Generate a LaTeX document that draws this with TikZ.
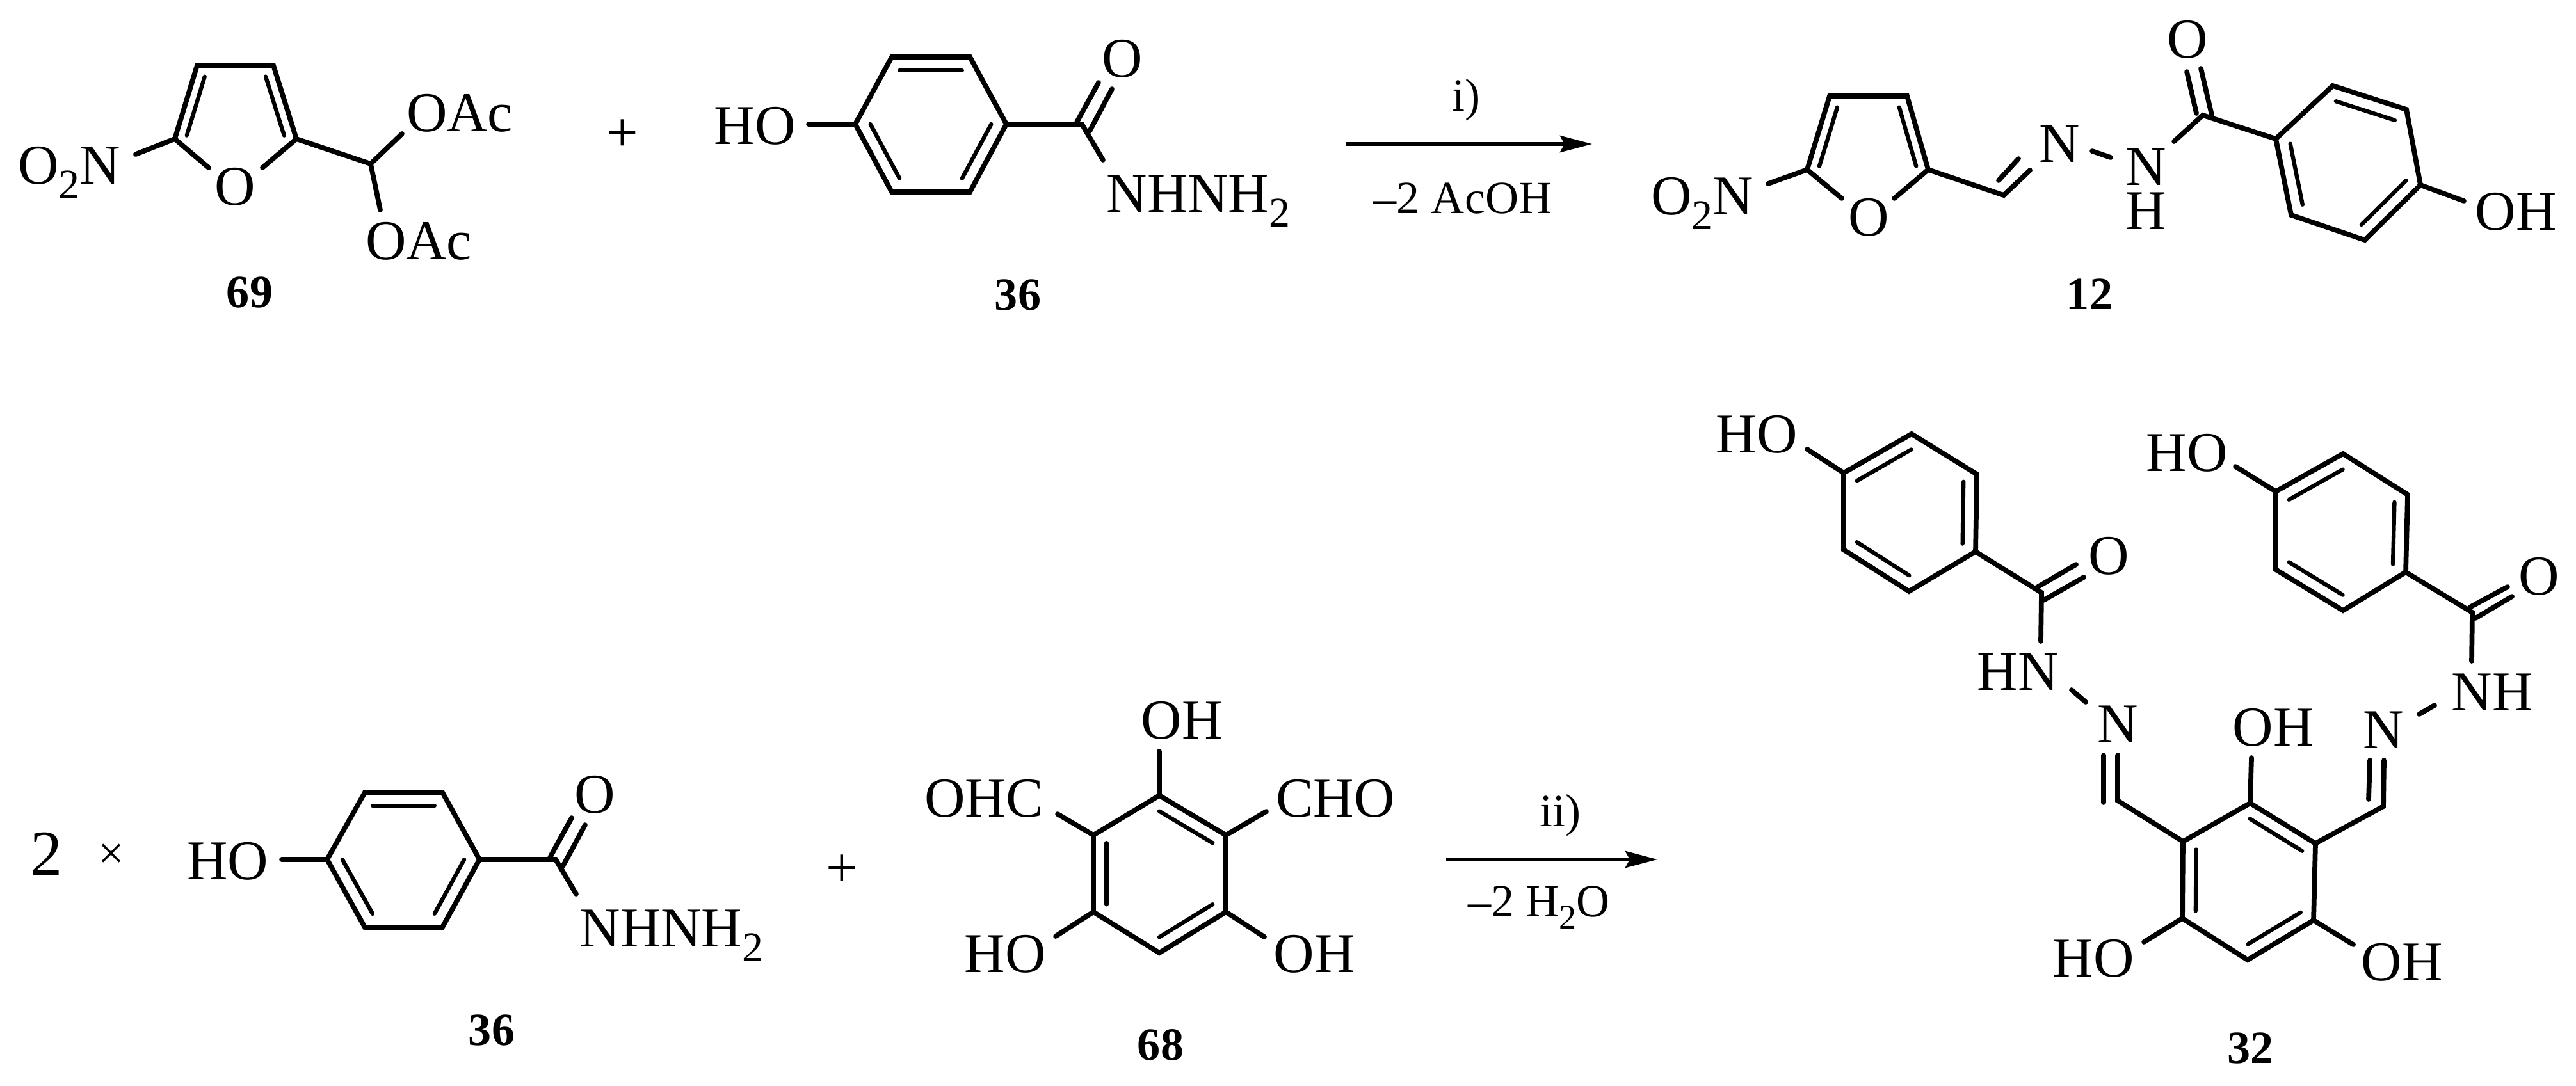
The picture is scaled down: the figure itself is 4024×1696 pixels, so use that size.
\documentclass[tikz,border=0pt]{standalone}
\usepackage{fontspec}
\setmainfont{Liberation Serif}
\usetikzlibrary{calc,arrows.meta}
\newcommand{\subtwo}{\raisebox{-0.27em}{\scalebox{0.75}{2}}}
\newcommand{\ringbond}[3]{\draw[innerbond] ($(#1)!0.2!(#3)$) -- ($(#2)!0.2!(#3)$);}
\tikzset{
	bond/.style={line width=2.2pt, line join=miter, line cap=round},
	innerbond/.style={line width=1.8pt, line cap=round},
	atom/.style={inner sep=0pt, anchor=base, font=\fontsize{25}{30}\selectfont},
	cond/.style={inner sep=0pt, anchor=base, font=\fontsize{20.5}{25}\selectfont},
	numlabel/.style={inner sep=0pt, anchor=base, font=\fontsize{20.5}{25}\selectfont\bfseries},
	reacarrow/.style={line width=1.5pt, -{Stealth[length=0.5cm, width=0.26cm, inset=0.07cm]}}
}
\begin{document}
\begin{tikzpicture}[x=0.01cm, y=-0.01cm]
	\useasboundingbox (0, 0) rectangle (4024, 1696);

	\coordinate (A69)at(308, 102);
	\coordinate (B69)at(427, 102);
	\coordinate (C69)at(463, 217);
	\coordinate (D69)at(273, 217);
	\coordinate (R69)at(367, 190);
	\coordinate (E69)at(579, 256);
	\coordinate (OL69)at(326, 262);
	\coordinate (OR69)at(410, 262);
	\coordinate (NE69)at(212, 241);
	\coordinate (AU69)at(628, 209);
	\coordinate (AD69)at(594, 328);
	\node[atom] (NO69)at(108, 287) {O\subtwo N};
	\node[atom] (O69)at(367, 320) {O};
	\node[atom] (OAcU69)at(718, 205) {OAc};
	\node[atom] (OAcD69)at(654, 405) {OAc};
	\node[numlabel] (L69)at(390, 480) {69};
	\draw[bond] (OL69) -- (D69) -- (A69) -- (B69) -- (C69) -- (OR69);
	\draw[bond] (NE69) -- (D69);
	\draw[bond] (C69) -- (E69) -- (AU69);
	\draw[bond] (E69) -- (AD69);
	\ringbond{A69}{D69}{R69}
	\ringbond{B69}{C69}{R69}

	\node[atom, anchor=center] (PlusA)at(972, 212) {+};

	\coordinate (A36)at(1393, 89);
	\coordinate (B36)at(1515, 89);
	\coordinate (C36)at(1572, 194);
	\coordinate (D36)at(1515, 300);
	\coordinate (E36)at(1393, 300);
	\coordinate (F36)at(1336, 194);
	\coordinate (R36)at(1454, 194);
	\coordinate (G36)at(1690, 194);
	\coordinate (HE36)at(1263, 194);
	\coordinate (NE36)at(1723, 250);
	\coordinate (OA36)at(1716, 129);
	\coordinate (OB36)at(1682, 191);
	\coordinate (OC36)at(1737, 139);
	\coordinate (OD36)at(1702, 205);
	\node[atom] (HO36)at(1179, 225) {HO};
	\node[atom] (O36)at(1753, 120) {O};
	\node[atom] (N36)at(1872, 331) {NHNH\subtwo};
	\node[numlabel] (L36)at(1590, 484) {36};
	\draw[bond] (A36) -- (B36) -- (C36) -- (D36) -- (E36) -- (F36) -- cycle;
	\draw[bond] (HE36) -- (F36);
	\draw[bond] (C36) -- (G36) -- (NE36);
	\draw[bond] (OA36) -- (OB36);
	\draw[bond] (OC36) -- (OD36);
	\ringbond{A36}{B36}{R36}
	\ringbond{C36}{D36}{R36}
	\ringbond{E36}{F36}{R36}

	\coordinate (ArrA)at(2103, 225);
	\coordinate (ArrB)at(2487, 225);
	\draw[reacarrow] (ArrA) -- (ArrB);
	\node[cond] (CondA)at(2290, 173) {i)};
	\node[cond] (LossA)at(2285, 333) {–2 AcOH};

	\coordinate (A12)at(2858, 150);
	\coordinate (B12)at(2979, 150);
	\coordinate (C12)at(3012, 265);
	\coordinate (D12)at(2823, 265);
	\coordinate (R12)at(2918, 238);
	\coordinate (OL12)at(2877, 310);
	\coordinate (OR12)at(2959, 310);
	\coordinate (NE12)at(2762, 287);
	\coordinate (E12)at(3130, 305);
	\coordinate (EN12)at(3171, 266);
	\coordinate (EA12)at(3122, 282);
	\coordinate (EB12)at(3153, 248);
	\coordinate (NA12)at(3268, 236);
	\coordinate (NB12)at(3297, 246);
	\coordinate (NC12)at(3396, 221);
	\coordinate (G12)at(3441, 180);
	\coordinate (OA12)at(3416, 112);
	\coordinate (OB12)at(3431, 177);
	\coordinate (OC12)at(3438, 107);
	\coordinate (OD12)at(3455, 180);
	\coordinate (P12)at(3555, 217);
	\coordinate (Q12)at(3644, 134);
	\coordinate (S12)at(3759, 171);
	\coordinate (T12)at(3781, 289);
	\coordinate (U12)at(3694, 375);
	\coordinate (V12)at(3579, 336);
	\coordinate (W12)at(3668, 255);
	\coordinate (HE12)at(3849, 314);
	\node[atom] (NO12)at(2659, 335) {O\subtwo N};
	\node[atom] (O12)at(2919, 368) {O};
	\node[atom] (N12)at(3217, 253) {N};
	\node[atom, anchor=center, align=center, font=\fontsize{25}{19.6}\selectfont] (NH12)at(3352, 295) {N\\H};
	\node[atom] (CO12)at(3417, 90) {O};
	\node[atom] (OH12)at(3930, 359) {OH};
	\node[numlabel] (L12)at(3264, 483) {12};
	\draw[bond] (OL12) -- (D12) -- (A12) -- (B12) -- (C12) -- (OR12);
	\draw[bond] (NE12) -- (D12);
	\draw[bond] (C12) -- (E12) -- (EN12);
	\draw[bond] (EA12) -- (EB12);
	\draw[bond] (NA12) -- (NB12);
	\draw[bond] (NC12) -- (G12) -- (P12);
	\draw[bond] (OA12) -- (OB12);
	\draw[bond] (OC12) -- (OD12);
	\draw[bond] (P12) -- (Q12) -- (S12) -- (T12) -- (U12) -- (V12) -- cycle;
	\draw[bond] (T12) -- (HE12);
	\ringbond{A12}{D12}{R12}
	\ringbond{B12}{C12}{R12}
	\ringbond{Q12}{S12}{W12}
	\ringbond{P12}{V12}{W12}
	\ringbond{T12}{U12}{W12}

	\node[atom, font=\fontsize{28.5}{34}\selectfont] (Two)at(73, 1367) {2};
	\node[cond, anchor=center] (Times)at(174, 1338) {×};

	\coordinate (A36b)at(570, 1238);
	\coordinate (B36b)at(691, 1238);
	\coordinate (C36b)at(749, 1343);
	\coordinate (D36b)at(691, 1449);
	\coordinate (E36b)at(570, 1449);
	\coordinate (F36b)at(511, 1343);
	\coordinate (R36b)at(630, 1343);
	\coordinate (G36b)at(868, 1343);
	\coordinate (HE36b)at(440, 1343);
	\coordinate (NE36b)at(900, 1397);
	\coordinate (OA36b)at(893, 1278);
	\coordinate (OB36b)at(859, 1340);
	\coordinate (OC36b)at(914, 1289);
	\coordinate (OD36b)at(879, 1354);
	\node[atom] (HO36b)at(356, 1374) {HO};
	\node[atom] (O36b)at(929, 1270) {O};
	\node[atom] (N36b)at(1049, 1479) {NHNH\subtwo};
	\node[numlabel] (L36b)at(768, 1633) {36};
	\draw[bond] (A36b) -- (B36b) -- (C36b) -- (D36b) -- (E36b) -- (F36b) -- cycle;
	\draw[bond] (HE36b) -- (F36b);
	\draw[bond] (C36b) -- (G36b) -- (NE36b);
	\draw[bond] (OA36b) -- (OB36b);
	\draw[bond] (OC36b) -- (OD36b);
	\ringbond{A36b}{B36b}{R36b}
	\ringbond{C36b}{D36b}{R36b}
	\ringbond{E36b}{F36b}{R36b}

	\node[atom, anchor=center] (PlusB)at(1315, 1361) {+};

	\coordinate (A68)at(1811, 1243);
	\coordinate (B68)at(1915, 1305);
	\coordinate (C68)at(1915, 1425);
	\coordinate (D68)at(1811, 1489);
	\coordinate (E68)at(1708, 1425);
	\coordinate (F68)at(1708, 1305);
	\coordinate (R68)at(1811, 1366);
	\coordinate (AE68)at(1811, 1174);
	\coordinate (FE68)at(1652, 1272);
	\coordinate (BE68)at(1978, 1268);
	\coordinate (EE68)at(1649, 1463);
	\coordinate (CE68)at(1975, 1464);
	\node[atom] (OHT68)at(1846, 1154) {OH};
	\node[atom] (OHC68)at(1537, 1276) {OHC};
	\node[atom] (CHO68)at(2086, 1276) {CHO};
	\node[atom] (HO68)at(1570, 1519) {HO};
	\node[atom] (OHR68)at(2053, 1519) {OH};
	\node[numlabel] (L68)at(1813, 1656) {68};
	\draw[bond] (A68) -- (B68) -- (C68) -- (D68) -- (E68) -- (F68) -- cycle;
	\draw[bond] (A68) -- (AE68);
	\draw[bond] (F68) -- (FE68);
	\draw[bond] (B68) -- (BE68);
	\draw[bond] (E68) -- (EE68);
	\draw[bond] (C68) -- (CE68);
	\ringbond{A68}{B68}{R68}
	\ringbond{E68}{F68}{R68}
	\ringbond{C68}{D68}{R68}

	\coordinate (ArrC)at(2259, 1343);
	\coordinate (ArrD)at(2589, 1343);
	\draw[reacarrow] (ArrC) -- (ArrD);
	\node[cond] (CondB)at(2437, 1291) {ii)};
	\node[cond] (LossB)at(2404, 1432) {–2 H\subtwo O};

	\coordinate (A32)at(2880, 739);
	\coordinate (B32)at(2986, 678);
	\coordinate (C32)at(3088, 741);
	\coordinate (D32)at(3086, 862);
	\coordinate (E32)at(2982, 924);
	\coordinate (F32)at(2880, 859);
	\coordinate (R32)at(2984, 800);
	\coordinate (HE32)at(2823, 702);
	\coordinate (G32)at(3189, 926);
	\coordinate (OA32)at(3180, 919);
	\coordinate (OB32)at(3243, 882);
	\coordinate (OC32)at(3192, 938);
	\coordinate (OD32)at(3255, 902);
	\coordinate (GE32)at(3188, 1002);
	\coordinate (NA32)at(3236, 1078);
	\coordinate (NB32)at(3258, 1097);
	\node[atom] (HOA32)at(2744, 707) {HO};
	\node[atom] (COA32)at(3294, 897) {O};
	\node[atom] (HN32)at(3152, 1078) {HN};
	\node[atom] (NL32)at(3308, 1160) {N};
	\draw[bond] (A32) -- (B32) -- (C32) -- (D32) -- (E32) -- (F32) -- cycle;
	\draw[bond] (HE32) -- (A32);
	\draw[bond] (D32) -- (G32) -- (GE32);
	\draw[bond] (OA32) -- (OB32);
	\draw[bond] (OC32) -- (OD32);
	\draw[bond] (NA32) -- (NB32);
	\ringbond{A32}{B32}{R32}
	\ringbond{C32}{D32}{R32}
	\ringbond{E32}{F32}{R32}

	\coordinate (H32)at(3555, 768);
	\coordinate (I32)at(3660, 709);
	\coordinate (J32)at(3761, 773);
	\coordinate (K32)at(3758, 894);
	\coordinate (L32)at(3660, 954);
	\coordinate (M32)at(3555, 890);
	\coordinate (S32)at(3658, 832);
	\coordinate (HF32)at(3492, 729);
	\coordinate (Y32)at(3862, 957);
	\coordinate (OE32)at(3858, 949);
	\coordinate (OF32)at(3917, 917);
	\coordinate (OG32)at(3867, 966);
	\coordinate (OH32)at(3924, 932);
	\coordinate (YE32)at(3861, 1033);
	\coordinate (NC32)at(3803, 1102);
	\coordinate (ND32)at(3779, 1116);
	\node[atom] (HOB32)at(3416, 736) {HO};
	\node[atom] (COB32)at(3966, 929) {O};
	\node[atom] (NH32)at(3893, 1110) {NH};
	\node[atom] (NR32)at(3723, 1169) {N};
	\draw[bond] (H32) -- (I32) -- (J32) -- (K32) -- (L32) -- (M32) -- cycle;
	\draw[bond] (HF32) -- (H32);
	\draw[bond] (K32) -- (Y32) -- (YE32);
	\draw[bond] (OE32) -- (OF32);
	\draw[bond] (OG32) -- (OH32);
	\draw[bond] (NC32) -- (ND32);
	\ringbond{H32}{I32}{S32}
	\ringbond{J32}{K32}{S32}
	\ringbond{L32}{M32}{S32}

	\coordinate (P32)at(3410, 1315);
	\coordinate (Q32)at(3515, 1255);
	\coordinate (T32)at(3617, 1318);
	\coordinate (U32)at(3614, 1438);
	\coordinate (V32)at(3511, 1500);
	\coordinate (W32)at(3409, 1435);
	\coordinate (Z32)at(3513, 1377);
	\coordinate (CL32)at(3308, 1251);
	\coordinate (CLN32)at(3308, 1180);
	\coordinate (DLA32)at(3286, 1180);
	\coordinate (DLB32)at(3286, 1254);
	\coordinate (CR32)at(3723, 1260);
	\coordinate (CRN32)at(3724, 1188);
	\coordinate (DRA32)at(3702, 1188);
	\coordinate (DRB32)at(3700, 1249);
	\coordinate (QE32)at(3517, 1184);
	\coordinate (WE32)at(3349, 1472);
	\coordinate (UE32)at(3676, 1476);
	\node[atom] (OHM32)at(3551, 1165) {OH};
	\node[atom] (HOC32)at(3270, 1526) {HO};
	\node[atom] (OHE32)at(3752, 1532) {OH};
	\node[numlabel] (LB32)at(3515, 1661) {32};
	\draw[bond] (P32) -- (Q32) -- (T32) -- (U32) -- (V32) -- (W32) -- cycle;
	\draw[bond] (Q32) -- (QE32);
	\draw[bond] (W32) -- (WE32);
	\draw[bond] (U32) -- (UE32);
	\draw[bond] (P32) -- (CL32) -- (CLN32);
	\draw[bond] (DLA32) -- (DLB32);
	\draw[bond] (T32) -- (CR32) -- (CRN32);
	\draw[bond] (DRA32) -- (DRB32);
	\ringbond{Q32}{T32}{Z32}
	\ringbond{P32}{W32}{Z32}
	\ringbond{U32}{V32}{Z32}
\end{tikzpicture}
\end{document}
